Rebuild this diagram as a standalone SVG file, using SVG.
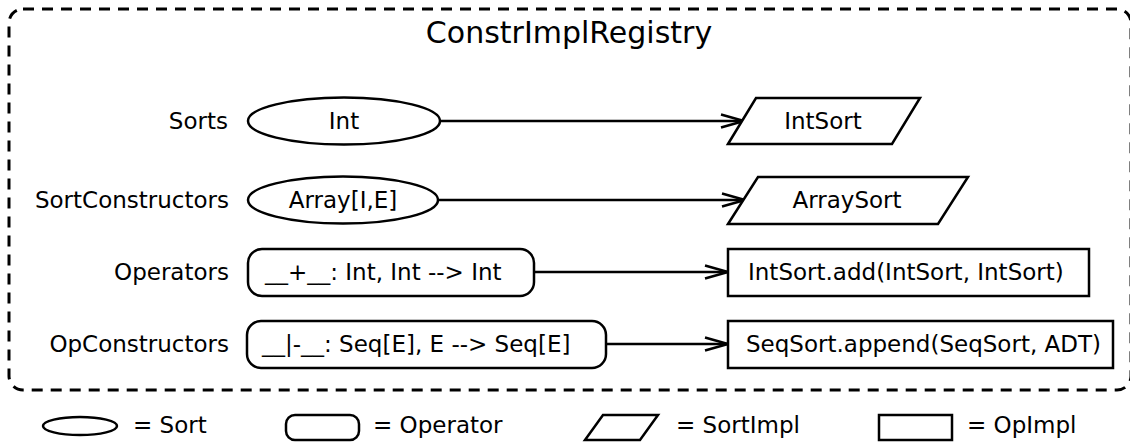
<svg xmlns="http://www.w3.org/2000/svg" width="1130" height="444" viewBox="0 0 1130 444">
  <defs>
    <marker id="open" viewBox="0 0 26 16" refX="24" refY="8" markerWidth="26" markerHeight="16" markerUnits="userSpaceOnUse" orient="auto">
      <path d="M1,1.5 L24,8 L1,14.5" fill="none" stroke="#000" stroke-width="2.5"/>
    </marker>
  </defs>
  <style>
    text { font-family: "DejaVu Sans", "Liberation Sans", sans-serif; fill: #000; font-size: 23px; }
    .lbl { text-anchor: end; }
    .mid { text-anchor: middle; }
    .shape { fill: #fff; stroke: #000; stroke-width: 2.5; }
    .edge { fill: none; stroke: #000; stroke-width: 2.5; marker-end: url(#open); }
  </style>
  <rect width="1130" height="444" fill="#fff"/>

  <!-- registry boundary -->
  <g id="registry">
    <rect x="9" y="9" width="1122" height="381" rx="14" fill="none" stroke="#000" stroke-width="3" stroke-dasharray="11,8"/>
    <text x="569" y="43" class="mid" style="font-size:30px">ConstrImplRegistry</text>
  </g>

  <!-- row labels -->
  <g id="labels">
    <text class="lbl" x="228" y="129">Sorts</text>
    <text class="lbl" x="229" y="208">SortConstructors</text>
    <text class="lbl" x="229" y="280">Operators</text>
    <text class="lbl" x="229" y="352">OpConstructors</text>
  </g>

  <!-- connectors -->
  <g id="connectors">
    <line class="edge" x1="440" y1="121" x2="744" y2="121"/>
    <line class="edge" x1="438" y1="200" x2="745" y2="200"/>
    <line class="edge" x1="534" y1="272" x2="728" y2="272"/>
    <line class="edge" x1="606" y1="344" x2="728" y2="344"/>
  </g>

  <!-- sorts -->
  <g id="sort-int">
    <ellipse class="shape" cx="344" cy="121" rx="96" ry="23.5"/>
    <text class="mid" x="344" y="129">Int</text>
  </g>
  <g id="sort-array">
    <ellipse class="shape" cx="343" cy="200" rx="95" ry="23.5"/>
    <text class="mid" x="343" y="208">Array[I,E]</text>
  </g>

  <!-- operators -->
  <g id="op-add">
    <rect class="shape" x="248" y="249" width="286" height="47" rx="14"/>
    <text x="265" y="280">__+__: Int, Int --&gt; Int</text>
  </g>
  <g id="op-append">
    <rect class="shape" x="247" y="321" width="359" height="47" rx="14"/>
    <text x="262" y="352">__|-__: Seq[E], E --&gt; Seq[E]</text>
  </g>

  <!-- sort implementations -->
  <g id="impl-intsort">
    <polygon class="shape" points="728,144 756,98 920,98 892,144"/>
    <text class="mid" x="823" y="129">IntSort</text>
  </g>
  <g id="impl-arraysort">
    <polygon class="shape" points="728,224 758,177 968,177 938,224"/>
    <text class="mid" x="847" y="208">ArraySort</text>
  </g>

  <!-- operator implementations -->
  <g id="impl-add">
    <rect class="shape" x="728" y="249" width="361" height="47"/>
    <text x="748" y="280">IntSort.add(IntSort, IntSort)</text>
  </g>
  <g id="impl-append">
    <rect class="shape" x="728" y="321" width="385" height="47"/>
    <text x="746" y="352">SeqSort.append(SeqSort, ADT)</text>
  </g>

  <!-- legend -->
  <g id="legend">
    <ellipse class="shape" cx="80" cy="426" rx="37" ry="9"/>
    <text x="133" y="433">= Sort</text>
    <rect class="shape" x="286" y="415" width="73" height="25" rx="9"/>
    <text x="373" y="433">= Operator</text>
    <polygon class="shape" points="585,440 603,415 658,415 640,440"/>
    <text x="676" y="433">= SortImpl</text>
    <rect class="shape" x="879" y="415" width="73" height="25"/>
    <text x="967" y="433">= OpImpl</text>
  </g>
</svg>
